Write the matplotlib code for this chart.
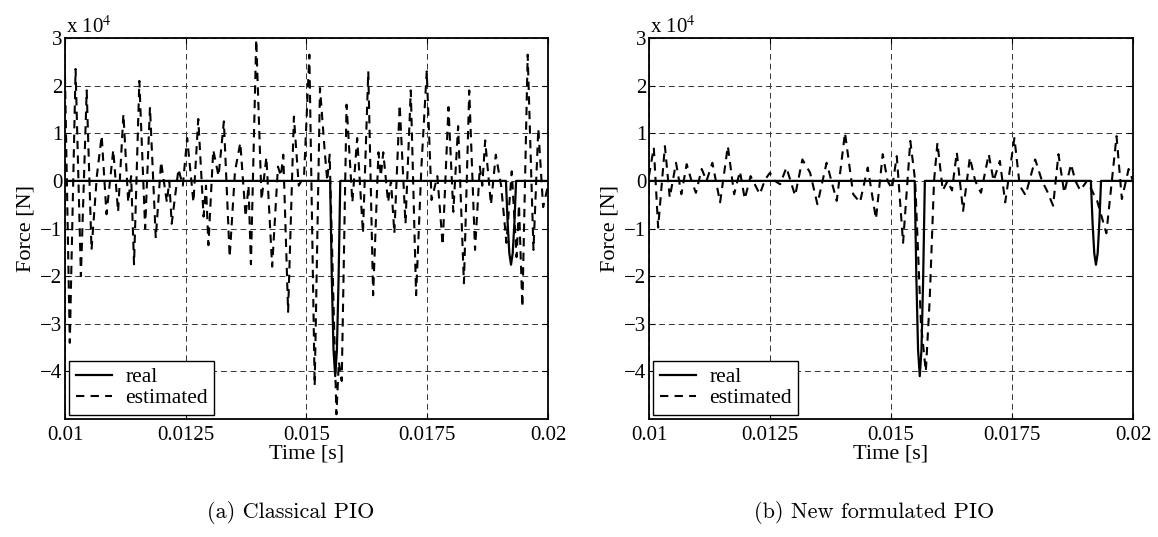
import matplotlib
matplotlib.use('Agg')
import matplotlib.pyplot as plt

plt.rcParams['font.family'] = ['Liberation Serif', 'DejaVu Serif']
plt.rcParams['mathtext.fontset'] = 'stix'

# force values are in units of 1e4 N
t_real = [0.01, 0.01549, 0.015525, 0.01556, 0.015595, 0.01563, 0.015665, 0.0157,
          0.01913, 0.019165, 0.0192, 0.019235, 0.01927, 0.019305, 0.01934, 0.02]
f_real = [0, 0, -2.05, -3.55, -4.1, -3.55, -2.05, 0,
          0, -0.88, -1.52, -1.76, -1.52, -0.88, 0, 0]

# (a) classical PIO estimate
t_est_a = [0.01000, 0.01010, 0.01022, 0.01033, 0.01045, 0.01055, 0.01066, 0.01076,
           0.01086, 0.01100, 0.01110, 0.01121, 0.01131, 0.01137, 0.01143, 0.01154,
           0.01166, 0.01176, 0.01188, 0.01199, 0.01211, 0.01216, 0.01221, 0.01235,
           0.01244, 0.01253, 0.01266, 0.01276, 0.01287, 0.01292, 0.01297, 0.01307,
           0.01318, 0.01329, 0.01341, 0.01352, 0.01363, 0.01374, 0.01380, 0.01385,
           0.01396, 0.01407, 0.01417, 0.01429, 0.01441, 0.01447, 0.01452, 0.01462,
           0.01474, 0.01484, 0.01495, 0.01506, 0.01517, 0.01528, 0.01538, 0.01543,
           0.01548, 0.01562, 0.01567, 0.01573, 0.01583, 0.01595, 0.01605, 0.01617,
           0.01628, 0.01638, 0.01649, 0.01654, 0.01659, 0.01669, 0.01675, 0.01682,
           0.01693, 0.01705, 0.01716, 0.01727, 0.01738, 0.01749, 0.01759, 0.01771,
           0.01782, 0.01794, 0.01804, 0.01814, 0.01826, 0.01837, 0.01849, 0.01859,
           0.01864, 0.01870, 0.01882, 0.01892, 0.01903, 0.01914, 0.01925, 0.01935,
           0.01940, 0.01947, 0.01958, 0.01970, 0.01980, 0.01990, 0.02000]
f_est_a = [2.2, -3.4, 2.35, -2.0, 1.9, -1.45, 0.1, 0.95,
           -0.7, 0.65, -0.65, 1.4, -0.45, 0.1, -1.75, 2.1,
           -1.0, 1.55, -1.2, 0.4, -0.45, 0.0, -0.9, 0.25,
           -0.1, 0.9, -0.45, 1.3, -0.75, -0.1, -1.35, 0.65,
           0.1, 1.25, -1.6, 0.2, 0.8, -0.75, -0.1, -1.75,
           2.97, -0.4, 0.5, -1.8, 0.3, 0.1, 0.55, -2.75,
           1.35, -0.1, 0.1, 2.65, -4.3, 1.95, 0.6, 0.0,
           0.55, -4.9, -3.8, -4.2, 1.6, -0.45, 0.9, -1.1,
           2.3, -2.4, 0.6, 0.1, 0.6, -0.45, 0.0, -1.1,
           1.6, -0.9, 1.9, -2.4, 0.3, 2.3, -0.4, 0.1,
           -1.35, 1.55, -0.65, 1.15, -2.15, 1.9, -1.45, 0.3,
           -0.1, 0.85, -0.5, 0.55, -0.1, -1.3, 0.2, -1.6,
           -0.5, -2.65, 2.65, -1.45, 1.1, -0.55, -0.1]

# (b) new formulated PIO estimate
t_est_b = [0.01000, 0.01010, 0.01019, 0.01033, 0.01043, 0.01056, 0.01067, 0.01078,
           0.01088, 0.01097, 0.01109, 0.01119, 0.01131, 0.01147, 0.01163, 0.01176,
           0.01188, 0.01198, 0.01210, 0.01229, 0.01240, 0.01250, 0.01260, 0.01271,
           0.01284, 0.01302, 0.01317, 0.01333, 0.01348, 0.01367, 0.01388, 0.01405,
           0.01422, 0.01436, 0.01452, 0.01469, 0.01483, 0.01493, 0.01502, 0.01512,
           0.01525, 0.01540, 0.01550, 0.01562, 0.01572, 0.01580, 0.01589, 0.01596,
           0.01607, 0.01617, 0.01626, 0.01636, 0.01649, 0.01663, 0.01674, 0.01686,
           0.01702, 0.01712, 0.01725, 0.01736, 0.01755, 0.01766, 0.01778, 0.01798,
           0.01812, 0.01822, 0.01835, 0.01846, 0.01858, 0.01872, 0.01881, 0.01891,
           0.01905, 0.01926, 0.01945, 0.01966, 0.01977, 0.01991, 0.02000]
f_est_b = [0.1, 0.7, -0.98, 0.73, -0.35, 0.38, -0.28, 0.35,
           0.0, -0.25, 0.25, 0.0, 0.38, -0.45, 0.73, -0.28,
           0.2, -0.38, 0.1, -0.28, 0.03, 0.17, 0.0, -0.07,
           0.28, -0.31, 0.45, 0.17, -0.49, 0.38, -0.42, 1.01,
           -0.28, -0.45, 0.28, -0.8, 0.56, 0.0, -0.17, 0.52,
           -1.3, 0.84, 0.0, -3.0, -4.0, -2.5, 0.0, 0.8,
           -0.2, 0.0, -0.2, 0.6, -0.63, 0.49, 0.0, -0.25,
           0.56, 0.0, 0.42, -0.45, 0.9, -0.1, -0.3, 0.45,
           0.0, -0.2, -0.52, 0.56, -0.25, 0.35, 0.0, -0.2,
           0.0, -0.42, -1.1, 0.94, -0.38, 0.25, 0.0]

xticks = [0.01, 0.0125, 0.015, 0.0175, 0.02]
xtick_labels = ['0.01', '0.0125', '0.015', '0.0175', '0.02']
yticks = [-4, -3, -2, -1, 0, 1, 2, 3]
ytick_labels = ['\u22124', '\u22123', '\u22122', '\u22121', '0', '1', '2', '3']

panels = [
    ([0.0561, 0.2197, 0.4171, 0.7095], t_est_a, f_est_a, '(a) Classical PIO', 291),
    ([0.5604, 0.2197, 0.4180, 0.7095], t_est_b, f_est_b, '(b) New formulated PIO', 874),
]

fig = plt.figure(figsize=(11.58, 5.37), dpi=100)

for pos, t_est, f_est, caption, cx in panels:
    ax = fig.add_axes(pos)
    ax.plot(t_real, f_real, color='k', lw=1.6, label='real', zorder=3)
    ax.plot(t_est, f_est, color='k', lw=1.5, ls=(0, (4, 3)), label='estimated', zorder=3)
    ax.set_xlim(0.01, 0.02)
    ax.set_ylim(-5, 3)
    ax.set_xticks(xticks)
    ax.set_xticklabels(xtick_labels)
    ax.set_yticks(yticks)
    ax.set_yticklabels(ytick_labels)
    ax.grid(True, color='#333333', ls=(0, (6, 4)), lw=0.7)
    ax.tick_params(direction='in', length=4, width=0.8, labelsize=15,
                   top=True, right=True)
    ax.tick_params(axis='y', pad=2)
    ax.tick_params(axis='x', pad=5)
    for sp in ax.spines.values():
        sp.set_linewidth(1.3)
    ax.set_xlabel('Time [s]', fontsize=16, labelpad=0)
    ax.set_ylabel('Force [N]', fontsize=16, labelpad=3)
    ax.text(0.002, 1.0, r'x 10$^{4}$', transform=ax.transAxes, fontsize=15,
            va='bottom', ha='left')
    leg = ax.legend(loc='lower left', fontsize=15.5, fancybox=False, framealpha=1,
                    edgecolor='k', handlelength=1.7, handletextpad=0.6,
                    borderpad=0.3, labelspacing=0.05, borderaxespad=0.2)
    leg.get_frame().set_linewidth(1.0)
    fig.text(cx / 1158, 1 - 512 / 537, caption, family='cmr10', fontsize=16,
             ha='center', va='center')

fig.savefig('out.png', dpi=100)
